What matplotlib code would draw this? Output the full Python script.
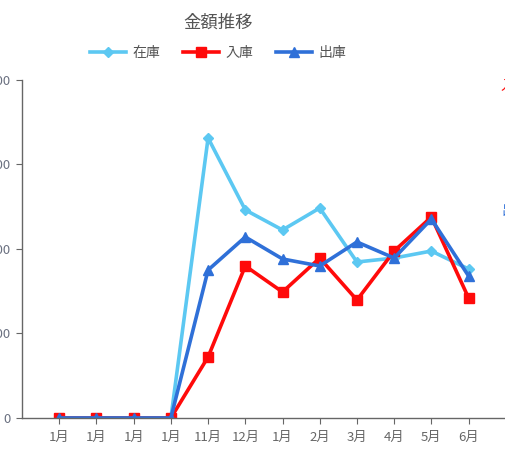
import matplotlib
matplotlib.use("Agg")
import matplotlib.pyplot as plt

plt.rcParams['font.family'] = ['Noto Sans CJK JP', 'DejaVu Sans']

# data
months = ["1月", "1月", "1月", "1月", "11月", "12月", "1月", "2月", "3月", "4月", "5月", "6月"]
zaiko = [0, 0, 0, 0, 3314, 2462, 2225, 2485, 1846, 1893, 1976, 1763]
nyuko = [0, 0, 0, 0, 722, 1799, 1491, 1893, 1396, 1976, 2379, 1420]
shukko = [0, 0, 0, 0, 1751, 2142, 1882, 1799, 2083, 1893, 2355, 1680]
y_ticks = [0, 1000, 2000, 3000, 4000]

c_zaiko = "#5cc8f2"
c_nyuko = "#ff0a0a"
c_shukko = "#2f70d8"
grey = "#666666"

fig = plt.figure(figsize=(5.05, 4.53), dpi=100)
ax = fig.add_axes([0.0436, 0.0773, 0.958, 0.7461])

x = list(range(len(months)))
ax.plot(x, zaiko, color=c_zaiko, lw=2.6, marker="D", ms=5.5, label="在庫")
ax.plot(x, nyuko, color=c_nyuko, lw=2.6, marker="s", ms=6.5, label="入庫")
ax.plot(x, shukko, color=c_shukko, lw=2.6, marker="^", ms=7.5, label="出庫")

ax.set_xlim(-1, 12)
ax.set_ylim(0, 4000)
ax.set_xticks(x)
ax.set_xticklabels(months)
ax.set_yticks(y_ticks)
ax.set_yticklabels([str(v) for v in y_ticks])

for side in ["top", "right"]:
    ax.spines[side].set_visible(False)
for side in ["left", "bottom"]:
    ax.spines[side].set_color(grey)
    ax.spines[side].set_linewidth(1)
ax.tick_params(axis="both", colors=grey, length=4, direction="out")
ax.tick_params(axis="y", pad=4, labelsize=9.5, labelcolor="#6a7080")
ax.tick_params(axis="x", pad=5, labelsize=9.5, labelcolor="#666666")

fig.text(0.432, 0.951, "金額推移", ha="center", va="center", fontsize=12.5, color="#555555")
fig.legend(loc="center", bbox_to_anchor=(0.432, 0.883), ncol=3, frameon=False,
           fontsize=10, handlelength=2.6, columnspacing=1.6, handletextpad=0.5,
           labelcolor="#555555")

# cut-off labels at the right edge of the original
fig.text(0.992, 0.81, "入庫", color=c_nyuko, fontsize=10, ha="left", va="center")
fig.text(0.992, 0.535, "出庫", color=c_shukko, fontsize=10, ha="left", va="center")

fig.savefig("out.png", dpi=100)
